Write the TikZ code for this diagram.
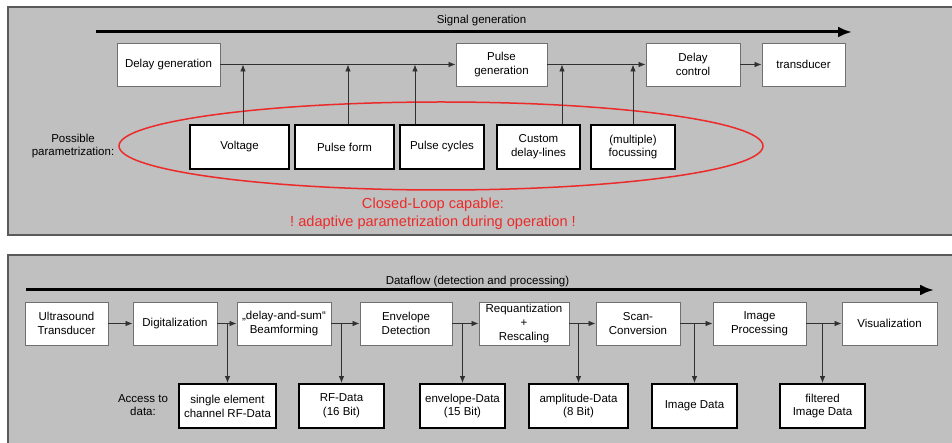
\documentclass[tikz,border=0pt]{standalone}
\usepackage{fontspec}
\setmainfont{Liberation Sans}
\usetikzlibrary{arrows.meta}
\frenchspacing
\definecolor{panelgray}{HTML}{C0C0C0}
\definecolor{panelborder}{HTML}{5A5A5A}
\definecolor{boxborder}{HTML}{707070}
\definecolor{connc}{HTML}{303030}
\definecolor{loopred}{HTML}{EC2A2A}
\tikzset{
  panel/.style={fill=panelgray,draw=panelborder,line width=1.2pt},
  procbox/.style={draw=boxborder,fill=white,line width=0.9pt,rectangle,align=center,inner sep=0pt,minimum height=43pt,font=\fontsize{11.5}{13.8}\selectfont},
  parbox/.style={draw=black,fill=white,line width=2pt,rectangle,align=center,inner sep=0pt,minimum height=44pt,font=\fontsize{11.5}{13.8}\selectfont},
  lbl/.style={align=center,inner sep=0pt,font=\fontsize{11.5}{13.8}\selectfont},
  conn/.style={draw=connc,line width=0.8pt,-{Latex[length=7pt,width=5.5pt]}},
  bigarrow/.style={draw=black,line width=3pt,-{Latex[length=14pt,width=11pt]}},
}
\begin{document}
\begin{tikzpicture}[x=1pt,y=-1pt]
\useasboundingbox (0,0) rectangle (952,443);
% panels
\path[panel] (8,7) rectangle (960,235);
\path[panel] (8,255) rectangle (960,450);

% ---------- top panel ----------
\coordinate (sgs) at (96,32);
\coordinate (sge) at (852,32);
\draw[bigarrow] (sgs) -- (sge);
\node[lbl] (sglbl) at (481.5,21) {Signal generation};

\draw[loopred,line width=1.5pt] (441,146) ellipse [x radius=322, y radius=44];

\node[procbox,minimum width=103pt] (dg) at (168.5,64.5) {Delay generation};
\node[procbox,minimum width=91pt] (pg) at (501.5,64.5) {Pulse\\generation};
\node[procbox,minimum width=94pt] (dc) at (693,64.5) {Delay\\control};
\node[procbox,minimum width=83pt] (tr) at (803.5,64.5) {transducer};

\node[parbox,minimum width=99pt] (volt) at (239.5,147) {Voltage};
\node[parbox,minimum width=99pt] (pform) at (344.5,147) {Pulse form};
\node[parbox,minimum width=84pt] (pcyc) at (442,147) {Pulse cycles};
\node[parbox,minimum width=83pt] (cdl) at (538.5,147) {Custom\\delay-lines};
\node[parbox,minimum width=84pt] (foc) at (633,147) {(multiple)\\focussing};

\node[lbl] (posp) at (73,146) {Possible\\parametrization:};

\draw[conn] (dg.east) -- (pg.west);
\draw[conn] (pg.east) -- (dc.west);
\draw[conn] (dc.east) -- (tr.west);

\coordinate (a1) at (243,64.5);
\coordinate (a2) at (348,64.5);
\coordinate (a3) at (415,64.5);
\coordinate (a4) at (562,64.5);
\coordinate (a5) at (633,64.5);
\draw[conn] (volt.north -| a1) -- (a1);
\draw[conn] (pform.north -| a2) -- (a2);
\draw[conn] (pcyc.north -| a3) -- (a3);
\draw[conn] (cdl.north -| a4) -- (a4);
\draw[conn] (foc.north -| a5) -- (a5);

\node[lbl,text=loopred,font=\fontsize{14.6}{18}\selectfont] (cl) at (433,214) {Closed-Loop capable:\\! adaptive parametrization during operation !};

% ---------- bottom panel ----------
\coordinate (dfs) at (26,290);
\coordinate (dfe) at (934,290);
\draw[bigarrow] (dfs) -- (dfe);
\node[lbl] (dflbl) at (477.5,281.5) {Dataflow (detection and processing)};

\node[procbox,minimum width=83pt] (ut) at (66.5,323.5) {Ultrasound\\Transducer};
\node[procbox,minimum width=84pt] (dig) at (175,323.5) {Digitalization};
\node[procbox,minimum width=94pt] (bf) at (284,323.5) {„delay-and-sum“\\Beamforming};
\node[procbox,minimum width=92pt] (env) at (406,323.5) {Envelope\\Detection};
\node[procbox,minimum width=90pt,font=\fontsize{11.5}{14}\selectfont] (req) at (524,323.5) {Requantization\\+\\Rescaling};
\node[procbox,minimum width=84pt] (scan) at (638,323.5) {Scan-\\Conversion};
\node[procbox,minimum width=93pt] (ip) at (759.5,323.5) {Image\\Processing};
\node[procbox,minimum width=95pt] (vis) at (889.5,323.5) {Visualization};

\node[parbox,minimum width=97pt] (d1) at (227.5,406) {single element\\channel RF-Data};
\node[parbox,minimum width=85pt] (d2) at (341.5,406) {RF-Data\\(16 Bit)};
\node[parbox,minimum width=85pt] (d3) at (462.5,406) {envelope-Data\\(15 Bit)};
\node[parbox,minimum width=99pt] (d4) at (578.5,406) {amplitude-Data\\(8 Bit)};
\node[parbox,minimum width=85pt] (d5) at (694.5,406) {Image Data};
\node[parbox,minimum width=85pt] (d6) at (822.5,406) {filtered\\Image Data};

\node[lbl] (acc) at (143,405) {Access to\\data:};

\draw[conn] (ut.east) -- (dig.west);
\draw[conn] (dig.east) -- (bf.west);
\draw[conn] (bf.east) -- (env.west);
\draw[conn] (env.east) -- (req.west);
\draw[conn] (req.east) -- (scan.west);
\draw[conn] (scan.east) -- (ip.west);
\draw[conn] (ip.east) -- (vis.west);

\draw[conn] (d1.north |- dig.east) -- (d1.north);
\draw[conn] (d2.north |- bf.east) -- (d2.north);
\draw[conn] (d3.north |- env.east) -- (d3.north);
\draw[conn] (d4.north |- req.east) -- (d4.north);
\draw[conn] (d5.north |- scan.east) -- (d5.north);
\draw[conn] (d6.north |- ip.east) -- (d6.north);
\end{tikzpicture}
\end{document}
